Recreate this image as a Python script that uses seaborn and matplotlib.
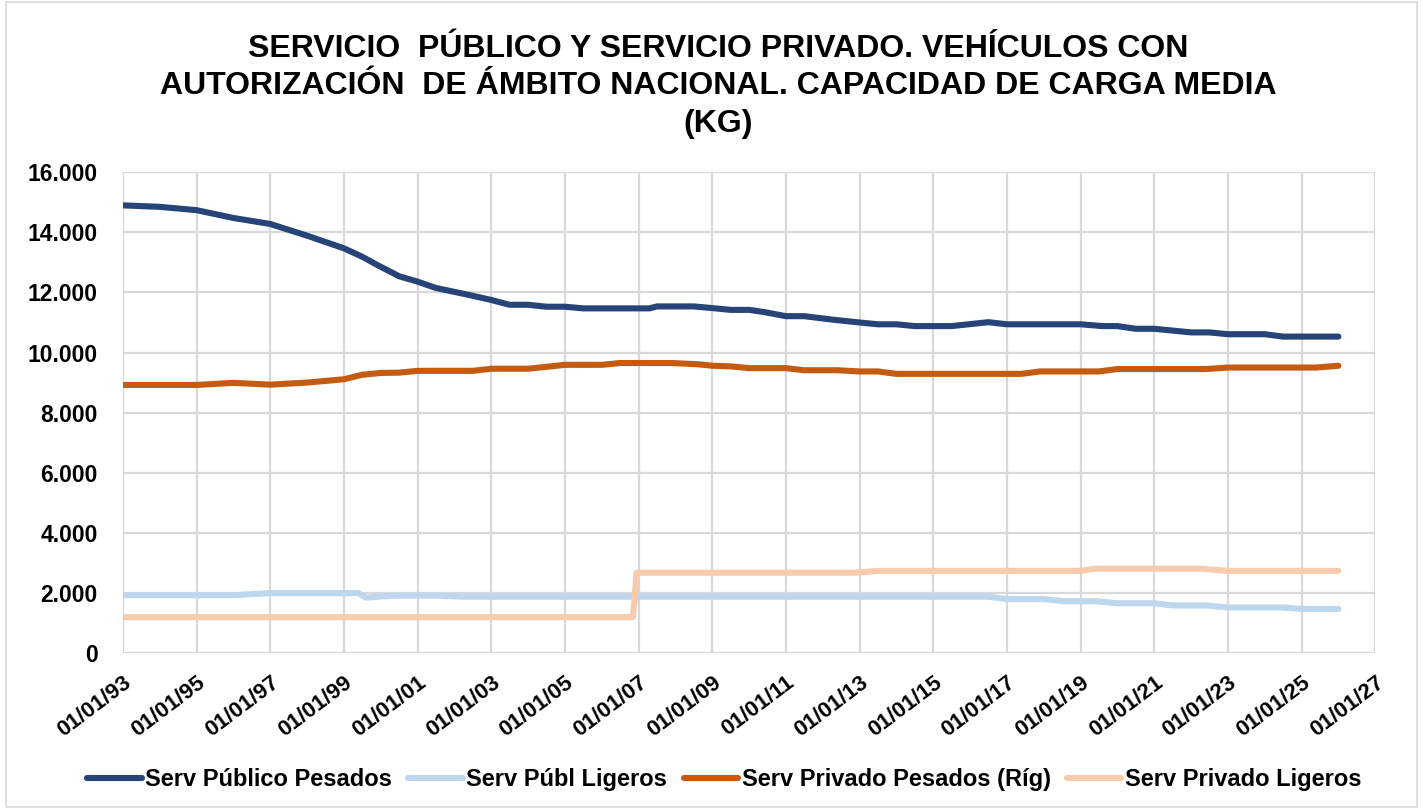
import pandas as pd
import numpy as np
import seaborn as sns
from matplotlib import pyplot as plt
import matplotlib.dates as mdates
from matplotlib.ticker import FuncFormatter
from matplotlib.patches import Rectangle

# datos (kg)
fechas_pub_pes = ["1993-01-01", "1994-01-01", "1995-01-01", "1996-01-01", "1997-01-01", "1998-01-01",
                  "1999-01-01", "1999-07-01", "1999-11-25", "2000-07-01", "2001-01-01", "2001-07-01",
                  "2002-07-01", "2003-01-01", "2003-07-01", "2004-01-01", "2004-07-01", "2005-01-01",
                  "2005-07-01", "2007-04-20", "2007-07-01", "2008-07-01", "2009-01-01", "2009-07-01",
                  "2010-01-01", "2010-05-26", "2011-01-01", "2011-07-01", "2012-04-20", "2013-01-01",
                  "2013-07-01", "2014-01-01", "2014-07-01", "2015-07-01", "2016-07-01", "2017-01-01",
                  "2019-01-01", "2019-08-08", "2020-01-01", "2020-07-01", "2021-01-01", "2022-01-01",
                  "2022-07-01", "2023-01-01", "2024-01-01", "2024-07-01", "2026-01-01"]
pub_pesados = [14900, 14850, 14740, 14480, 14280, 13890, 13470, 13190, 12920, 12540, 12360, 12150,
               11890, 11750, 11590, 11590, 11525, 11525, 11470, 11470, 11535, 11535, 11480, 11420,
               11420, 11350, 11210, 11210, 11090, 11000, 10940, 10940, 10880, 10880, 11010, 10940,
               10940, 10880, 10880, 10790, 10790, 10670, 10670, 10610, 10610, 10530, 10530]

fechas_pub_lig = ["1993-01-01", "1996-01-01", "1997-01-01", "1999-05-26", "1999-08-08", "2000-04-20",
                  "2001-07-01", "2002-03-15", "2016-07-01", "2017-01-01", "2018-01-01", "2018-07-20",
                  "2019-05-26", "2020-01-01", "2021-01-01", "2021-07-01", "2022-05-26", "2023-01-01",
                  "2024-07-01", "2025-01-01", "2026-01-01"]
pub_ligeros = [1920, 1920, 1990, 1990, 1840, 1900, 1910, 1870, 1870, 1790, 1790, 1720,
               1720, 1650, 1650, 1580, 1580, 1510, 1510, 1460, 1460]

fechas_priv_pes = ["1993-01-01", "1995-01-01", "1996-01-01", "1997-01-01", "1998-01-01", "1999-01-01",
                   "1999-07-01", "2000-01-01", "2000-07-01", "2001-01-01", "2002-07-01", "2003-01-01",
                   "2004-01-01", "2005-01-01", "2006-01-01", "2006-07-01", "2007-11-25", "2008-08-08",
                   "2009-01-01", "2009-07-01", "2010-01-01", "2011-01-01", "2011-07-01", "2012-05-26",
                   "2013-01-01", "2013-07-01", "2014-01-01", "2017-05-26", "2017-11-25", "2019-07-01",
                   "2020-01-01", "2022-05-26", "2023-01-01", "2025-05-26", "2026-01-01"]
priv_pesados = [8920, 8920, 8990, 8930, 9000, 9110, 9260, 9320, 9330, 9390, 9390, 9460,
                9460, 9590, 9590, 9650, 9650, 9610, 9560, 9540, 9480, 9480, 9410, 9410,
                9370, 9370, 9290, 9290, 9370, 9370, 9450, 9450, 9500, 9500, 9560]

fechas_priv_lig = ["1993-01-01", "2006-11-07", "2006-12-13", "2012-11-25", "2013-07-01", "2019-01-01",
                   "2019-05-26", "2022-04-20", "2023-01-01", "2026-01-01"]
priv_ligeros = [1190, 1190, 2670, 2670, 2730, 2730, 2800, 2800, 2730, 2730]

series = ["Serv Público Pesados", "Serv Públ Ligeros", "Serv Privado Pesados (Ríg)", "Serv Privado Ligeros"]
colores = ["#264478", "#BDD7EE", "#C55A11", "#F8CBAD"]

frames = []
for nombre, f, v in zip(series, [fechas_pub_pes, fechas_pub_lig, fechas_priv_pes, fechas_priv_lig],
                        [pub_pesados, pub_ligeros, priv_pesados, priv_ligeros]):
     frames.append(pd.DataFrame({"fecha": pd.to_datetime(f), "kg": v, "serie": nombre}))
df = pd.concat(frames, ignore_index=True)

sns.set_style("white", {"text.color": "black", "xtick.color": "black", "ytick.color": "black"})
plt.rcParams['font.family'] = ['Liberation Sans', 'DejaVu Sans']

fig = plt.figure(figsize=(14.23, 8.09), dpi=100)
ax = fig.add_axes([0.0864, 0.193, 0.8800, 0.594])

sns.lineplot(data=df, x="fecha", y="kg", hue="serie", hue_order=series, palette=colores,
             linewidth=4.4, legend=False, ax=ax, solid_capstyle="round", estimator=None)

ax.set_xlim(pd.Timestamp("1993-01-01"), pd.Timestamp("2027-01-01"))
ax.set_ylim(0, 16000)
ax.set_yticks(np.arange(0, 16001, 2000))
ax.yaxis.set_major_formatter(FuncFormatter(lambda v, p: f"{int(v):,}".replace(",", ".")))
ticks = pd.to_datetime([f"{y}-01-01" for y in range(1993, 2028, 2)])
ax.set_xticks(ticks)
ax.xaxis.set_major_formatter(mdates.DateFormatter("%d/%m/%y"))
ax.grid(True, color="#D9D9D9", linewidth=1.6)
ax.set_axisbelow(True)
for s in ax.spines.values():
     s.set_visible(False)
ax.set_xlabel("")
ax.set_ylabel("")
ax.tick_params(length=0, labelcolor="black")
ax.tick_params(axis="y", pad=18)
ax.tick_params(axis="x", pad=14)
for lab in ax.get_yticklabels():
     lab.set_fontsize(16.5)
     lab.set_fontweight("bold")
for lab in ax.get_xticklabels():
     lab.set_fontsize(16)
     lab.set_fontweight("bold")
     lab.set_rotation(37)
     lab.set_ha("right")
     lab.set_rotation_mode("anchor")

fig.text(0.505, 0.958, "SERVICIO  PÚBLICO Y SERVICIO PRIVADO. VEHÍCULOS CON\n"
         "AUTORIZACIÓN  DE ÁMBITO NACIONAL. CAPACIDAD DE CARGA MEDIA\n(KG)",
         ha="center", va="top", fontsize=23, fontweight="bold", linespacing=1.32, color="black")

handles = [plt.Line2D([], [], color=c, linewidth=4.4, solid_capstyle="round") for c in colores]
leg = fig.legend(handles, series, loc="center", bbox_to_anchor=(0.509, 0.036), ncol=4, frameon=False,
                 handlelength=2.3, handletextpad=0.15, columnspacing=0.7,
                 prop={"weight": "bold", "size": 17}, labelcolor="black")

fig.patches.append(Rectangle((0.004, 0.003), 0.992, 0.994, transform=fig.transFigure,
                             fill=False, edgecolor="#D9D9D9", linewidth=1.2))

plt.savefig("out.png", dpi=100)
